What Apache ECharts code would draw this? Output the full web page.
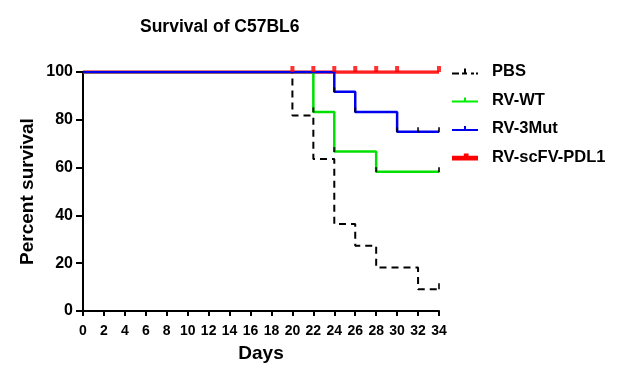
<!DOCTYPE html>
<html><head><meta charset="utf-8">
<script src="https://cdn.jsdelivr.net/npm/echarts@6/dist/echarts.min.js"></script>
<style>html,body{margin:0;padding:0;background:#fff}#c{width:628px;height:382px}</style>
</head><body><div id="c"></div>
<script>
var xTicks = [0,2,4,6,8,10,12,14,16,18,20,22,24,26,28,30,32,34];
var yTicks = [0,20,40,60,80,100];
var seriesNames = ['PBS','RV-WT','RV-3Mut','RV-scFV-PDL1'];
var pbsDays = [0,20,22,24,26,28,32,34];
var pbsVals = [100,81.8,63.6,36.4,27.3,18.2,9.1,9.1];
var wtDays = [0,22,24,28,34];
var wtVals = [100,83.3,66.7,58.3,58.3];
var mutDays = [0,24,26,30,34];
var mutVals = [100,91.7,83.3,75,75];
var pdlDays = [0,34];
var pdlVals = [100,100];
var pbsCensorDays = [34]; var pbsCensorVals = [9.1];
var wtCensorDays = [22,24,28,34]; var wtCensorVals = [83.3,66.7,58.3,58.3];
var mutCensorDays = [24,26,30,32,34]; var mutCensorVals = [91.7,83.3,75,75,75];
var pdlCensorDays = [20,22,24,26,28,30,34]; var pdlCensorVals = [100,100,100,100,100,100,100];

function pts(d,v){return d.map(function(x,i){return [x,v[i]];});}
var FONT = '"Liberation Sans", Arial, sans-serif';
var chart = echarts.init(document.getElementById('c'));
chart.setOption({
  animation:false,
  backgroundColor:'#fff',
  title:{text:'Survival of C57BL6',left:135,top:13,textStyle:{fontFamily:FONT,fontWeight:'bold',fontSize:17.5,color:'#000'}},
  grid:{left:83,right:189,top:72,bottom:71},
  legend:{
    orient:'vertical',left:447,top:58,itemWidth:26,itemHeight:14,itemGap:11.5,
    textStyle:{fontFamily:FONT,fontWeight:'bold',fontSize:16.5,lineHeight:14,color:'#000',padding:[0,0,0,9]},
    data:[
      {name:'PBS',icon:'path://M0,6h7v2h-7z M10,6h5v2h-5z M12,2h2v4h-2z M19,6h3v2h-3z M24,6h2v2h-2z'},
      {name:'RV-WT',icon:'path://M0,6h26v2h-26z M12,3h2v3h-2z'},
      {name:'RV-3Mut',icon:'path://M0,6h26v2h-26z M12,3h2v3h-2z'},
      {name:'RV-scFV-PDL1',icon:'path://M2,5h22v4h-22z M12,3h4v2h-4z'}
    ]
  },
  xAxis:{type:'value',min:0,max:34,interval:2,
    name:'Days',nameLocation:'middle',nameGap:33,nameMoveOverlap:false,
    nameTextStyle:{fontFamily:FONT,fontWeight:'bold',fontSize:19,color:'#000'},
    axisLine:{onZero:false,lineStyle:{color:'#000',width:2}},
    axisTick:{show:true,length:5,lineStyle:{color:'#000',width:2}},
    axisLabel:{fontFamily:FONT,fontWeight:'bold',fontSize:14,color:'#000',margin:13},
    splitLine:{show:false}},
  yAxis:{type:'value',min:0,max:100,interval:20,
    name:'Percent survival',nameLocation:'middle',nameGap:46,nameMoveOverlap:false,
    nameTextStyle:{fontFamily:FONT,fontWeight:'bold',fontSize:19,color:'#000'},
    axisLine:{show:true,lineStyle:{color:'#000',width:2}},
    axisTick:{show:true,length:7,lineStyle:{color:'#000',width:2}},
    axisLabel:{fontFamily:FONT,fontWeight:'bold',fontSize:16,color:'#000',margin:10},
    splitLine:{show:false}},
  series:[
    {name:'RV-scFV-PDL1',type:'line',step:'end',data:pts(pdlDays,pdlVals),showSymbol:false,color:'#ff0000',lineStyle:{color:'#ff2020',width:3.5},z:2},
    {name:'PBS',type:'line',step:'end',data:pts(pbsDays,pbsVals),showSymbol:false,color:'#000',lineStyle:{color:'#000',width:2,type:[7,5]},z:3},
    {name:'RV-WT',type:'line',step:'end',data:pts(wtDays,wtVals),showSymbol:false,color:'#00ee00',lineStyle:{color:'#00e000',width:2.5},z:4},
    {name:'RV-3Mut',type:'line',step:'end',data:pts(mutDays,mutVals),showSymbol:false,color:'#0000ee',lineStyle:{color:'#0000ee',width:2.5},z:5},
    {type:'scatter',data:pts(pbsCensorDays,pbsCensorVals),symbol:'rect',symbolSize:[2,6],symbolOffset:[0,-3],itemStyle:{color:'#000'},z:6,silent:true},
    {type:'scatter',data:pts(wtCensorDays,wtCensorVals),symbol:'rect',symbolSize:[2,5],symbolOffset:[0,-2],itemStyle:{color:'#000'},z:6,silent:true},
    {type:'scatter',data:pts(mutCensorDays,mutCensorVals),symbol:'rect',symbolSize:[2,5],symbolOffset:[0,-2],itemStyle:{color:'#000'},z:6,silent:true},
    {type:'scatter',data:pts(pdlCensorDays,pdlCensorVals),symbol:'rect',symbolSize:[4,6],symbolOffset:[0,-3],itemStyle:{color:'#ff0000'},z:6,silent:true}
  ]
});
</script></body></html>
